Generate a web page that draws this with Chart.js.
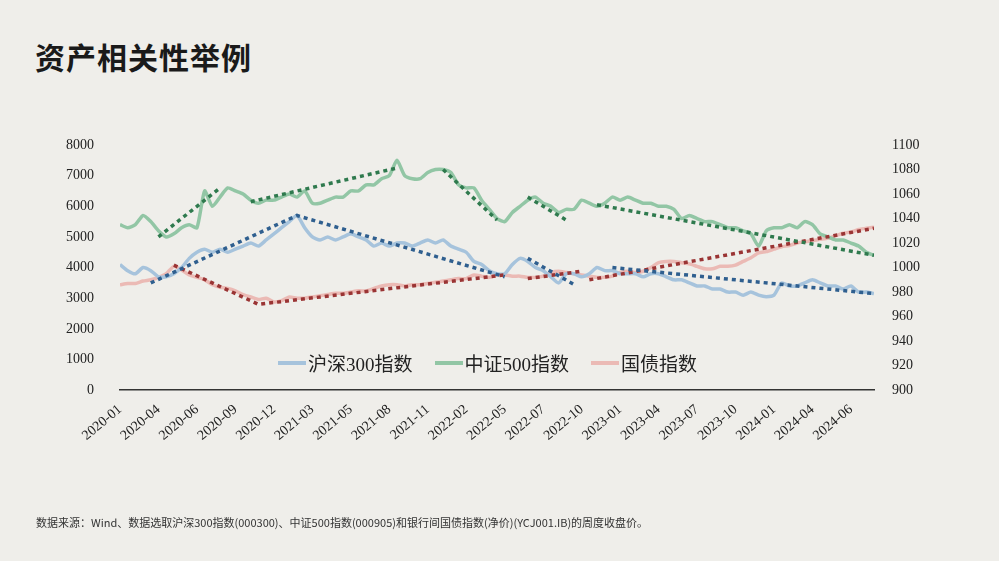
<!DOCTYPE html>
<html>
<head>
<meta charset="utf-8">
<script src="https://cdn.jsdelivr.net/npm/chart.js@4/dist/chart.umd.min.js"></script>
<style>
  body { margin: 0; width: 999px; height: 561px; background: #efeeea; overflow: hidden; position: relative; font-family: "Liberation Serif", "Noto Sans CJK SC", serif; }
  h1 { position: absolute; left: 35px; top: 34px; margin: 0; font-size: 30px; font-weight: bold; color: #1a1a1a; font-family: "Noto Sans CJK SC", serif; letter-spacing: 1px; }
  #wrap { position: absolute; left: 0; top: 0; width: 999px; height: 561px; }
  #legend { position: absolute; left: 278px; top: 349px; display: flex; gap: 22px; font-size: 19px; color: #222; }
  #legend span.item { display: flex; align-items: center; }
  #legend i { display: inline-block; width: 28px; height: 4px; margin-right: 2px; }
  .note { position: absolute; left: 36px; top: 514px; font-size: 11px; color: #333; font-family: "Noto Sans CJK SC", serif; }
</style>
</head>
<body>
<h1>资产相关性举例</h1>
<div id="wrap"><canvas id="c"></canvas></div>
<div id="legend">
  <span class="item"><i style="background:#a6c3dc"></i>沪深300指数</span>
  <span class="item"><i style="background:#92c6a5"></i>中证500指数</span>
  <span class="item"><i style="background:#ebbab5"></i>国债指数</span>
</div>
<div class="note">数据来源：Wind、数据选取沪深300指数(000300)、中证500指数(000905)和银行间国债指数(净价)(YCJ001.IB)的周度收盘价。</div>
<script>
// tick labels, one every 5 points
const tickLabels = ['2020-01','2020-04','2020-06','2020-09','2020-12','2021-03','2021-05','2021-08','2021-11','2022-02',
  '2022-05','2022-07','2022-10','2023-01','2023-04','2023-07','2023-10','2024-01','2024-04','2024-06'];
const categories = Array.from({ length: 99 }, (_, i) => i % 5 === 0 ? tickLabels[i / 5] : '');

const hs300 = [4100,3900,3800,4000,3900,3700,3700,3800,4000,4300,4500,4600,4500,4600,4500,4600,4700,4800,4700,4900,
  5100,5300,5500,5700,5300,5000,4900,5000,4900,5000,5100,5000,4900,4700,4800,4700,4800,4800,4700,4800,
  4900,4800,4900,4700,4600,4500,4200,4100,3900,3800,3800,4100,4300,4200,4000,3900,3700,3500,3800,3800,
  3700,3800,4000,3900,3900,3800,3800,3800,3700,3800,3800,3700,3600,3600,3500,3400,3400,3300,3300,3200,
  3200,3100,3200,3100,3050,3100,3500,3400,3400,3500,3600,3500,3400,3400,3300,3400,3200,3200,3150];
const zz500 = [5400,5300,5400,5700,5500,5200,5000,5100,5300,5400,5300,6500,6000,6300,6600,6500,6400,6200,6100,6200,
  6200,6300,6400,6300,6500,6100,6100,6200,6300,6300,6500,6500,6700,6700,6900,7000,7500,7000,6900,6900,
  7100,7200,7200,7100,6700,6600,6600,6200,5900,5600,5500,5800,6000,6200,6300,6100,6000,5800,5900,5900,
  6200,6100,6000,6100,6300,6200,6300,6200,6100,6100,6000,6000,5900,5600,5700,5600,5500,5500,5400,5300,
  5300,5200,5100,4700,5200,5300,5300,5400,5300,5500,5400,5100,5000,4900,4900,4800,4700,4500,4400];
const bond = [986,987,987,989,990,992,995,1001,998,994,992,990,986,984,983,981,978,976,974,975,
  972,973,976,975,975,976,977,978,979,979,980,981,981,983,985,986,986,985,986,986,
  987,988,989,990,991,991,994,993,992,994,994,993,993,992,992,993,996,997,996,995,
  994,993,992,992,993,996,997,996,997,1000,1004,1005,1005,1004,1003,1001,999,999,1001,1001,
  1002,1005,1008,1012,1013,1015,1017,1018,1020,1021,1022,1023,1024,1026,1028,1029,1031,1032,1033];

// trend segments: [index, value]
const hs300Trend = [[[4,3500],[23,5700],[50,3700]], [[53,4300],[59,3450]], [[64,4000],[98,3150]]];
const zz500Trend = [[[5,5000],[13,6600]], [[17,6150],[36,7250]], [[42,7200],[49,5550]], [[53,6300],[58,5550]], [[62,6050],[98,4400]]];
const bondTrend = [[[7,1002],[18,970],[50,994]], [[53,991],[60,997]], [[61,990],[98,1032]]];

const leftTicks = [0,1000,2000,3000,4000,5000,6000,7000,8000];
const rightTicks = [900,920,940,960,980,1000,1020,1040,1060,1080,1100];

function trendSets(segs, color, axis) {
  return segs.map(seg => ({
    data: seg.map(p => ({ x: p[0], y: p[1] })),
    parsing: false, borderColor: color, borderWidth: 3.5, borderDash: [4, 4],
    pointRadius: 0, fill: false, tension: 0, yAxisID: axis, order: 0
  }));
}
function series(data, color, axis) {
  return { data: data.map((v, i) => ({ x: i, y: v })), parsing: false, borderColor: color, borderWidth: 3.5,
    pointRadius: 0, tension: 0.2, fill: false, yAxisID: axis, order: 1 };
}

const tickFont = { family: '"Liberation Serif", serif', size: 14 };
new Chart(document.getElementById('c'), {
  type: 'line',
  data: {
    labels: categories,
    datasets: [
      series(hs300, '#a6c3dc', 'y'),
      series(zz500, '#92c6a5', 'y'),
      series(bond, '#ebbab5', 'y1'),
      ...trendSets(hs300Trend, '#2f5f8f', 'y'),
      ...trendSets(zz500Trend, '#2f7a4e', 'y'),
      ...trendSets(bondTrend, '#9a3434', 'y1')
    ]
  },
  options: {
    responsive: true, maintainAspectRatio: false, animation: false,
    layout: { padding: { left: 48, right: 69, top: 145, bottom: 114 } },
    plugins: { legend: { display: false }, tooltip: { enabled: false } },
    scales: {
      x: { type: 'linear', min: 0, max: 98, offset: false,
        grid: { display: false }, border: { color: '#333', width: 1.5 },
        afterBuildTicks: ax => { ax.ticks = tickLabels.map((t, i) => ({ value: i * 5 })); },
        ticks: { autoSkip: false, minRotation: 40, maxRotation: 40, color: '#222', font: tickFont,
          callback: v => tickLabels[v / 5] } },
      y: { min: 0, max: 8000, grid: { display: false }, border: { display: false },
        afterBuildTicks: ax => { ax.ticks = leftTicks.map(v => ({ value: v })); },
        ticks: { color: '#222', font: tickFont, padding: 18, callback: v => String(v) } },
      y1: { position: 'right', min: 900, max: 1100, grid: { display: false }, border: { display: false },
        afterBuildTicks: ax => { ax.ticks = rightTicks.map(v => ({ value: v })); },
        ticks: { color: '#222', font: tickFont, padding: 10, callback: v => String(v) } }
    }
  }
});
</script>
</body>
</html>
